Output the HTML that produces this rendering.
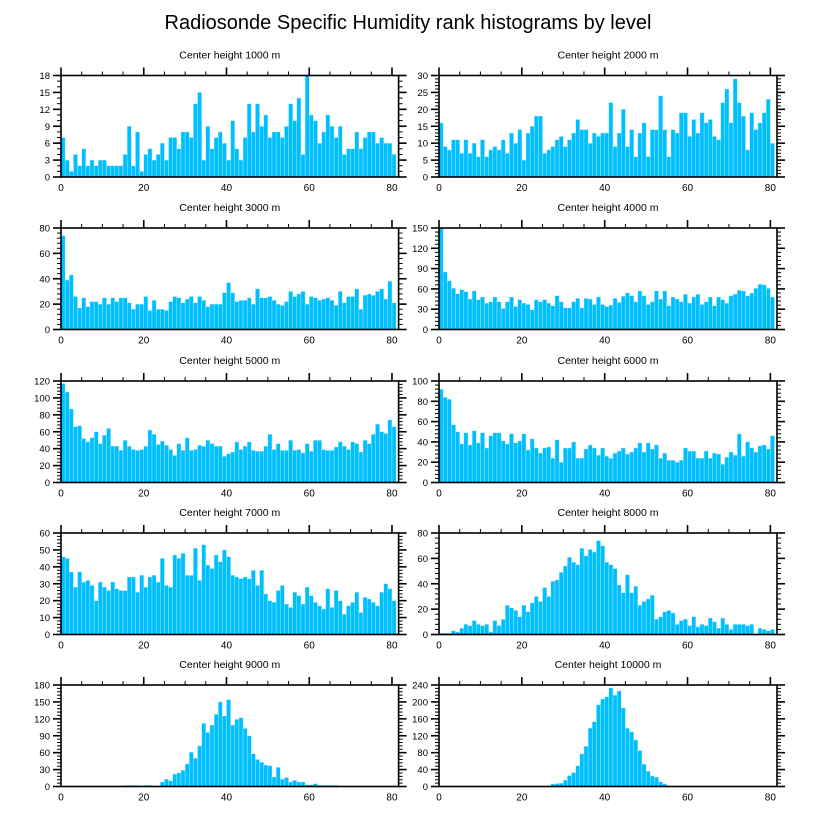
<!DOCTYPE html>
<html><head><meta charset="utf-8"><style>
body{margin:0;background:#fff;}
svg{display:block;font-family:"Liberation Sans",sans-serif;}
</style></head><body>
<svg id="chart" width="816" height="824" viewBox="0 0 816 824">
<text x="408" y="29" font-size="20" text-anchor="middle">Radiosonde Specific Humidity rank histograms by level</text>
</svg>
<script>
const titles = ["Center height 1000 m","Center height 2000 m","Center height 3000 m","Center height 4000 m","Center height 5000 m","Center height 6000 m","Center height 7000 m","Center height 8000 m","Center height 9000 m","Center height 10000 m"];
const yMaxes = [18,30,80,150,120,100,60,80,180,240];
const yMajors = [3,5,20,30,20,20,10,20,30,40];
const xTicks = [0,20,40,60,80];
const h1000 = [7,3,1,4,2,5,2,3,2,3,3,2,2,2,2,4,9,2,8,1,4,5,3,4,6,3,7,7,5,8,8,7,13,15,3,9,5,7,8,6,3,10,5,3,7,13,8,13,9,11,7,8,8,7,9,13,10,14,4,18,11,10,6,8,11,9,7,9,4,5,5,8,5,7,8,8,6,7,6,6,4];
const h2000 = [16,9,8,11,11,7,11,7,10,6,11,6,8,9,8,11,7,13,10,14,5,13,15,18,18,7,8,9,11,12,9,11,13,17,14,14,10,13,12,13,13,22,9,13,20,9,14,6,13,16,6,14,14,24,14,6,14,13,19,19,12,17,13,19,16,17,12,11,22,26,16,29,22,18,8,19,14,16,19,23,10];
const h3000 = [74,39,43,26,17,25,18,22,22,20,25,20,25,22,25,25,21,16,20,20,26,15,23,16,16,15,22,26,25,21,24,26,21,26,23,18,20,20,20,29,37,29,22,23,23,25,20,32,25,25,26,23,20,19,22,30,26,28,30,20,26,25,23,24,25,23,19,30,21,26,26,32,16,27,28,27,30,32,24,38,21];
const h4000 = [150,85,72,61,53,59,56,45,57,44,48,39,41,48,41,31,41,48,34,44,39,37,29,44,41,44,39,35,50,41,32,32,41,46,32,46,45,37,48,37,34,36,46,40,49,54,50,41,57,50,37,41,57,45,57,35,48,45,41,52,39,48,52,37,41,48,35,48,44,39,50,52,58,57,50,54,61,67,66,61,48];
const h5000 = [117,107,87,66,67,52,48,53,60,46,56,64,43,43,38,50,43,39,38,39,43,62,57,45,49,44,39,32,46,38,53,38,39,44,43,50,46,43,43,31,34,36,48,39,43,48,38,37,37,43,57,39,46,38,38,50,38,39,35,46,37,50,50,39,38,38,42,48,43,39,48,46,36,50,46,57,69,60,58,74,66];
const h6000 = [92,84,82,57,50,38,49,37,51,39,49,34,46,49,49,41,38,48,39,41,48,32,43,34,29,34,35,24,42,20,34,34,40,24,24,33,37,34,27,34,26,24,29,31,34,28,30,34,39,30,39,33,37,24,29,22,22,20,22,34,31,31,24,24,31,24,29,28,18,25,30,27,48,26,40,34,30,36,37,33,46];
const h7000 = [46,45,37,28,37,31,32,29,20,31,28,26,31,27,26,26,34,34,25,35,28,34,35,31,45,29,28,47,45,48,35,35,51,32,53,41,39,47,43,50,46,35,34,33,34,33,38,29,38,24,20,19,26,29,18,16,25,23,18,28,23,19,17,15,27,16,26,20,12,17,19,25,13,22,21,19,17,25,30,27,20];
const h8000 = [1,1,1,3,2,5,8,7,11,8,7,8,2,11,7,12,23,21,19,14,23,18,25,30,26,37,30,42,43,49,54,61,57,55,68,62,67,65,74,70,57,55,52,39,33,47,33,38,23,26,28,31,12,14,18,19,17,8,11,12,7,14,6,8,7,13,10,5,13,8,4,8,8,8,7,8,0,5,4,3,4];
const h9000 = [0,0,0,0,0,0,0,0,0,0,0,0,0,0,0,2,2,2,2,0,2,2,1,1,8,13,10,22,24,29,40,61,50,72,112,96,109,128,150,125,154,109,119,122,103,90,58,48,43,38,37,17,34,13,16,8,11,8,8,3,3,5,2,2,2,2,2,0,0,0,0,0,0,0,0,0,0,0,0,0,0];
const h10000 = [0,0,0,0,0,0,0,0,0,0,0,0,0,0,0,0,0,0,0,0,0,0,0,0,0,0,0,6,7,8,15,26,33,49,77,95,138,153,193,207,212,233,216,226,186,138,129,110,85,53,36,25,22,11,6,2,2,0,0,0,0,0,0,0,0,0,0,0,0,0,0,0,0,0,0,0,0,0,0,0,0];
const series = [h1000,h2000,h3000,h4000,h5000,h6000,h7000,h8000,h9000,h10000];

const NS = "http://www.w3.org/2000/svg";
const svg = document.getElementById('chart');
const XMAX = 81.6;
const colX = [61, 439], colW = [337.6, 338];
const rowTop = [75.5, 228, 381, 533, 685], PH = 101.5;
function mk(tag, attrs, parent){const e=document.createElementNS(NS,tag);for(const k in attrs)e.setAttribute(k,attrs[k]);(parent||svg).appendChild(e);return e;}

series.forEach((vals, p) => {
  const c = p % 2, r = Math.floor(p / 2);
  const x0 = colX[c], w = colW[c], y0 = rowTop[r], yb = y0 + PH;
  const ymax = yMaxes[p], maj = yMajors[p], minor = maj / (maj===3?3:5);
  const xs = v => x0 + v / XMAX * w;
  const ys = v => yb - v / ymax * PH;
  const g = mk('g', {});
  
  
  const t = mk('text', {x: x0 + w/2, y: y0 - 17, 'font-size': 10.5, 'text-anchor': 'middle'}, g);
  t.textContent = titles[p];
  
  
  vals.forEach((v, i) => {
    if (v <= 0) return;
    const b = mk('rect', {x: xs(i), y: ys(v), width: xs(i+1)-xs(i), height: yb - ys(v), fill: '#00bfff', stroke: '#bfefff', 'stroke-width': 0.4}, g);
    
    
  });
  const box = mk('rect', {x: x0, y: y0, width: w, height: PH, fill: 'none', stroke: '#000', 'stroke-width': 1.6}, g);
  
  
  // x ticks top
  for (let v = 0; v <= 80; v += 5) {
    const big = v % 20 === 0;
    mk('line', {x1: xs(v), x2: xs(v), y1: y0, y2: y0 - (big ? 8 : 4), stroke: '#000', 'stroke-width': big ? 1.6 : 1}, g);
  }
  xTicks.forEach(v => {
    const l = mk('text', {x: xs(v), y: yb + 14, 'font-size': 10, 'text-anchor': 'middle'}, g);
    l.textContent = v;
    
    
  });
  for (let v = 0; v <= ymax + 1e-6; v += minor) {
    const big = Math.abs(v / maj - Math.round(v / maj)) < 1e-6;
    const len = big ? 8 : 4;
    mk('line', {x1: x0, x2: x0 - len, y1: ys(v), y2: ys(v), stroke: '#000', 'stroke-width': big ? 1.6 : 1}, g);
    mk('line', {x1: x0 + w, x2: x0 + w + len, y1: ys(v), y2: ys(v), stroke: '#000', 'stroke-width': big ? 1.6 : 1}, g);
    if (big) {
      const l = mk('text', {x: x0 - 11, y: ys(v) + 3.5, 'font-size': 9.5, 'text-anchor': 'end'}, g);
      l.textContent = Math.round(v);
      
      
    }
  }
});
</script>
</body></html>
